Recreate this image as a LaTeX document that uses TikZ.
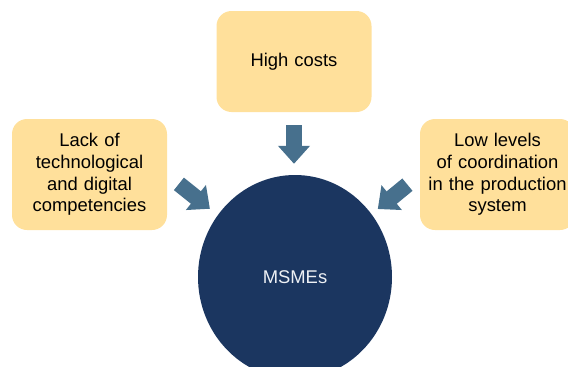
\documentclass[tikz,border=0pt]{standalone}
\usepackage{fontspec}
\setmainfont{Liberation Sans}
\usepackage{tikz}
\usetikzlibrary{shapes.geometric, arrows.meta}
\definecolor{causefill}{HTML}{FFE09B}
\definecolor{corefill}{HTML}{1B3660}
\definecolor{arrowblue}{HTML}{47708D}
\definecolor{coretext}{HTML}{EEF1F5}

\begin{document}
\begin{tikzpicture}[
  x=1pt, y=-1pt,
  cause/.style={fill=causefill, rounded corners=15pt, minimum width=155pt, minimum height=111pt,
               text width=150pt, inner sep=0pt, align=center,
               font=\fontsize{18.4}{21.6}\selectfont},
  core/.style={ellipse, fill=corefill, minimum width=194pt, minimum height=204pt, inner sep=0pt,
               text=coretext, font=\fontsize{18.4}{21.6}\selectfont},
  arr/.style={-{Triangle[length=18pt, width=31pt]}, line width=16pt, arrowblue},
]
\useasboundingbox (0,0) rectangle (568,367);
\clip (0,0) rectangle (568,367);
\node[cause, minimum height=101pt] (high) at (294,61.5)  {High costs};
\node[cause] (lack) at (89.5,174.5)  {Lack of\\technological\\and digital\\competencies};
\node[cause] (low)  at (497.5,174.5) {Low levels\\of coordination\\in the production\\system};
\node[core]  (msme) at (295,277) {MSMEs};
\draw[arr, shorten <=13pt, shorten >=11pt] (high.south) -- (high.south |- msme.north);
\draw[arr, shorten <=15pt, shorten >=10pt] (lack.east) -- (msme);
\draw[arr, shorten <=16pt, shorten >=8pt]  (low.west)  -- (msme);
\end{tikzpicture}
\end{document}
